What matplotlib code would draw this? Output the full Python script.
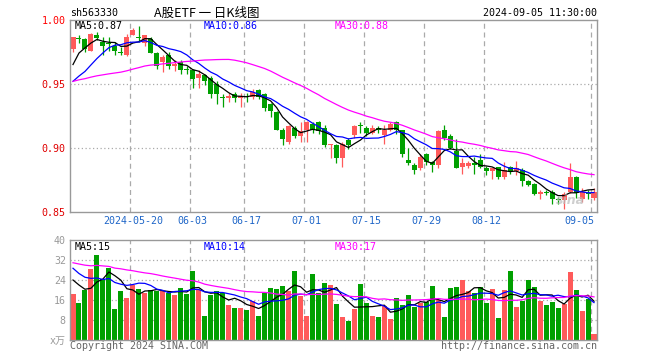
import numpy as np
import matplotlib
matplotlib.use('Agg')
import matplotlib.pyplot as plt

plt.rcParams['font.family'] = ['DejaVu Sans Mono', 'Noto Sans CJK SC']

# daily K data for sh563330, 2024-05-06 .. 2024-09-05
open_ = [0.977, 0.986, 0.985, 0.976, 0.988, 0.983, 0.982, 0.980, 0.975, 0.973,
         0.988, 0.987, 0.982, 0.985, 0.974, 0.967, 0.973, 0.964, 0.967, 0.962,
         0.961, 0.955, 0.957, 0.955, 0.950, 0.940, 0.939, 0.942, 0.939, 0.941,
         0.940, 0.945, 0.942, 0.934, 0.928, 0.914, 0.905, 0.916, 0.909, 0.914,
         0.919, 0.920, 0.916, 0.902, 0.902, 0.892, 0.906, 0.910, 0.918, 0.916,
         0.912, 0.916, 0.910, 0.914, 0.920, 0.914, 0.891, 0.887, 0.884, 0.895,
         0.889, 0.887, 0.914, 0.909, 0.898, 0.885, 0.886, 0.888, 0.891, 0.884,
         0.882, 0.885, 0.877, 0.885, 0.882, 0.883, 0.874, 0.872, 0.864, 0.866,
         0.866, 0.860, 0.859, 0.866, 0.877, 0.860, 0.865, 0.861]
high = [0.987, 0.988, 0.986, 0.990, 0.991, 0.987, 0.987, 0.983, 0.979, 0.989,
        0.994, 0.995, 0.988, 0.987, 0.975, 0.973, 0.975, 0.969, 0.969, 0.964,
        0.962, 0.961, 0.958, 0.956, 0.952, 0.942, 0.943, 0.944, 0.943, 0.943,
        0.946, 0.946, 0.943, 0.935, 0.929, 0.916, 0.918, 0.917, 0.920, 0.921,
        0.920, 0.921, 0.918, 0.903, 0.903, 0.905, 0.908, 0.918, 0.920, 0.917,
        0.918, 0.917, 0.918, 0.920, 0.921, 0.914, 0.900, 0.888, 0.895, 0.896,
        0.890, 0.914, 0.918, 0.911, 0.907, 0.892, 0.890, 0.893, 0.895, 0.886,
        0.884, 0.885, 0.889, 0.886, 0.890, 0.884, 0.875, 0.873, 0.867, 0.867,
        0.867, 0.862, 0.866, 0.888, 0.878, 0.869, 0.867, 0.869]
low = [0.975, 0.982, 0.975, 0.976, 0.984, 0.973, 0.976, 0.973, 0.973, 0.972,
       0.988, 0.983, 0.980, 0.974, 0.962, 0.959, 0.962, 0.960, 0.958, 0.958,
       0.947, 0.947, 0.949, 0.939, 0.934, 0.932, 0.936, 0.936, 0.932, 0.936,
       0.938, 0.938, 0.929, 0.924, 0.914, 0.902, 0.903, 0.908, 0.905, 0.905,
       0.912, 0.911, 0.901, 0.892, 0.888, 0.885, 0.899, 0.908, 0.912, 0.909,
       0.911, 0.912, 0.903, 0.913, 0.911, 0.893, 0.887, 0.880, 0.883, 0.887,
       0.881, 0.884, 0.906, 0.899, 0.884, 0.880, 0.884, 0.880, 0.884, 0.879,
       0.876, 0.876, 0.876, 0.880, 0.879, 0.870, 0.870, 0.863, 0.860, 0.863,
       0.856, 0.856, 0.852, 0.865, 0.861, 0.858, 0.860, 0.859]
close = [0.987, 0.985, 0.977, 0.989, 0.986, 0.980, 0.981, 0.976, 0.974, 0.987,
         0.992, 0.986, 0.988, 0.974, 0.964, 0.971, 0.964, 0.966, 0.961, 0.961,
         0.954, 0.958, 0.952, 0.942, 0.942, 0.939, 0.941, 0.939, 0.941, 0.940,
         0.944, 0.940, 0.931, 0.929, 0.914, 0.907, 0.917, 0.909, 0.913, 0.920,
         0.914, 0.913, 0.902, 0.903, 0.892, 0.903, 0.902, 0.917, 0.917, 0.912,
         0.916, 0.914, 0.914, 0.919, 0.914, 0.895, 0.888, 0.883, 0.893, 0.889,
         0.887, 0.913, 0.908, 0.900, 0.884, 0.888, 0.888, 0.887, 0.885, 0.882,
         0.884, 0.877, 0.883, 0.882, 0.884, 0.874, 0.871, 0.864, 0.866, 0.865,
         0.860, 0.859, 0.864, 0.877, 0.865, 0.866, 0.864, 0.866]
volume = [18.5, 15, 20, 28.5, 34, 24.5, 29, 12.5, 19.5, 17,
          22, 20.5, 19, 20, 19.5, 19.5, 19, 18, 21, 18.5,
          27.5, 20, 9.5, 18, 19.5, 19, 14, 13, 13, 12,
          15.5, 9.5, 19, 21, 20.5, 21.5, 19.5, 27.5, 17.5, 9.5,
          26.5, 19, 23, 22, 14.4, 9.2, 7.6, 12.4, 22.4, 14.8,
          9.6, 9.2, 13.6, 8.4, 16.8, 14, 18, 13.2, 14.8, 15.2,
          21.6, 16, 9.2, 20.8, 21.2, 24, 19.6, 18.8, 21.2, 14.8,
          20.4, 8.8, 20, 27.6, 13.2, 15.6, 24, 21.2, 15.6, 14,
          15.2, 12.8, 14.4, 27.2, 20, 11.6, 16.4, 2.4]

# the 29 sessions before the window, only used for the moving averages
hist_close = [0.948, 0.950, 0.953, 0.955, 0.957, 0.958, 0.956, 0.954, 0.955, 0.953,
              0.951, 0.950, 0.952, 0.954, 0.953, 0.951, 0.949, 0.948, 0.947, 0.946,
              0.944, 0.941, 0.938, 0.936, 0.936, 0.940, 0.957, 0.970, 0.972]
hist_volume = [30, 34, 36, 29, 31, 35, 33, 28, 30, 32,
               34, 31, 29, 33, 35, 32, 30, 34, 31, 33,
               36, 35, 33, 32.5, 30.5, 25, 28.5, 26.5, 21.5]

tick_index = [10, 20, 29, 39, 49, 59, 69, 87]
tick_labels = ['2024-05-20', '06-03', '06-17', '07-01', '07-15', '07-29', '08-12', '09-05']

RED = '#ff5a5a'
GREEN = '#00a000'
GRID = '#aaaaaa'
ma_colors = {5: 'black', 10: '#0000ff', 30: '#ff00ff'}


def moving_average(values, history, n):
    s = np.concatenate([history, values])
    ma = np.convolve(s, np.ones(n) / n, mode='valid')
    return ma[-len(values):]


o = np.array(open_)
c = np.array(close)
h = np.array(high)
l = np.array(low)
v = np.array(volume)
x = np.arange(len(c))
colors = np.where(c >= o, RED, GREEN)
W = 0.84

fig = plt.figure(figsize=(6.6, 3.6), dpi=100)
ax1 = fig.add_axes([70 / 660, 1 - 212 / 360, 527 / 660, 192 / 360])
ax2 = fig.add_axes([70 / 660, 1 - 340 / 360, 527 / 660, 100 / 360])

for ax in (ax1, ax2):
    ax.set_xlim(-0.5, len(c) - 0.5)
    for s in ax.spines.values():
        s.set_color('#999999')
        s.set_linewidth(1.0)
    ax.tick_params(length=0, labelsize=7.2, pad=3)
    for idx in tick_index:
        ax.axvline(idx - W / 2, color=GRID, ls=(0, (4, 3)), lw=0.9, zorder=0)

# price panel
ax1.set_ylim(0.85, 1.00)
for yv in (0.95, 0.90):
    ax1.axhline(yv, color=GRID, ls=(0, (1, 2)), lw=0.9, zorder=0)
ax1.vlines(x, l, h, colors=colors, lw=0.9, zorder=2)
ax1.bar(x, np.maximum(np.abs(c - o), 0.0008), bottom=np.minimum(o, c),
        width=W, color=colors, lw=0, zorder=2)
for n, col in ma_colors.items():
    ax1.plot(x, moving_average(c, hist_close, n), color=col, lw=0.9, zorder=3)
ax1.set_yticks([0.85, 0.90, 0.95, 1.00])
ax1.set_yticklabels(['0.85', '0.90', '0.95', '1.00'])
for t in ax1.get_yticklabels():
    t.set_color('#e00000')
ax1.get_yticklabels()[-1].set_color('#ff0000')
ax1.set_xticks(tick_index)
ax1.set_xticklabels(tick_labels, color='#1f66c8')
ax1.get_xticklabels()[-1].set_horizontalalignment('right')

# volume panel
ax2.set_ylim(0, 40)
for yv in (8, 16, 24, 32):
    ax2.axhline(yv, color=GRID, ls=(0, (1, 2)), lw=0.9, zorder=0)
ax2.bar(x, v, width=W, color=colors, lw=0, zorder=2)
for n, col in ma_colors.items():
    ax2.plot(x, moving_average(v, hist_volume, n), color=col, lw=0.9, zorder=3)
ax2.set_yticks([0, 8, 16, 24, 32, 40])
ax2.set_yticklabels(['x万', '8', '16', '24', '32', '40'], color='#999999')
ax2.set_xticks([])

# header and labels
fig.text(70 / 660, 1 - 13 / 360, 'sh563330', fontsize=7.2, va='center')
fig.text(207 / 660, 1 - 13 / 360, 'A股ETF 一 日K线图', fontsize=9, ha='center', va='center',
         family=['Noto Sans CJK SC', 'DejaVu Sans'])
fig.text(597 / 660, 1 - 13 / 360, '2024-09-05 11:30:00', fontsize=7.2, ha='right', va='center')

for ytop, labels in ((26, ['MA5:0.87', 'MA10:0.86', 'MA30:0.88']),
                     (247, ['MA5:15', 'MA10:14', 'MA30:17'])):
    for xp, txt, col in zip((75, 204, 335), labels, ma_colors.values()):
        fig.text(xp / 660, 1 - ytop / 360, txt, fontsize=7.2, color=col, va='center')

fig.text(570 / 660, 1 - 200 / 360, 'sina', fontsize=9, color='#bbbbbb', alpha=0.7,
         style='italic', weight='bold', ha='center', va='center', family='DejaVu Sans')
fig.text(70 / 660, 1 - 346 / 360, 'Copyright 2024 SINA.COM', fontsize=7.2, color='#666666', va='center')
fig.text(597 / 660, 1 - 346 / 360, 'http://finance.sina.com.cn', fontsize=7.2, color='#666666',
         ha='right', va='center')

fig.savefig('out.png', dpi=100)
